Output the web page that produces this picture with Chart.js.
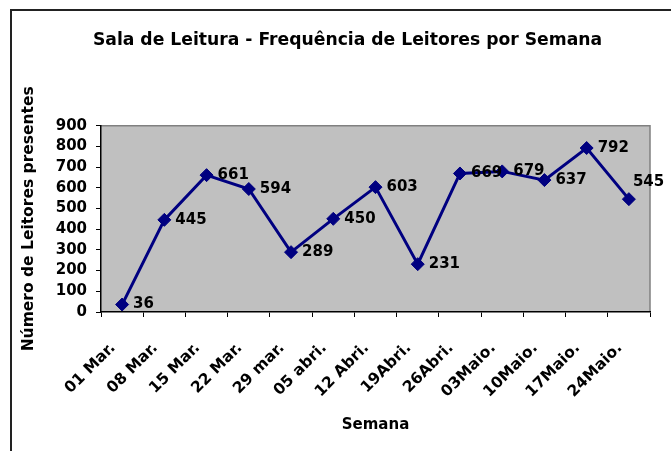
<!DOCTYPE html>
<html>
<head>
<meta charset="utf-8">
<script src="https://cdn.jsdelivr.net/npm/chart.js@4.4.0/dist/chart.umd.min.js"></script>
<style>
html, body { margin: 0; padding: 0; background: #fff; }
</style>
</head>
<body>
<canvas id="myChart" width="671" height="451"></canvas>
<script>
let semanas = ['01 Mar.', '08 Mar.', '15 Mar.', '22 Mar.', '29 mar.', '05 abri.', '12 Abri.', '19Abri.', '26Abri.', '03Maio.', '10Maio.', '17Maio.', '24Maio.'];
let leitores = [36, 445, 661, 594, 289, 450, 603, 231, 669, 679, 637, 792, 545];
let yMin = 0, yMax = 900, yStep = 100;

let fonte = '"DejaVu Sans", Verdana, sans-serif';

// moldura, fundo cinza da area do grafico
let moldura = {
	id: 'moldura',
	beforeDraw: function (chart) {
		let ctx = chart.ctx;
		let a = chart.chartArea;
		ctx.save();
		ctx.fillStyle = '#fff';
		ctx.fillRect(0, 0, chart.width, chart.height);
		ctx.strokeStyle = '#222';
		ctx.lineWidth = 2;
		ctx.beginPath();
		ctx.moveTo(11, chart.height + 2);
		ctx.lineTo(11, 10);
		ctx.lineTo(chart.width + 2, 10);
		ctx.stroke();
		ctx.fillStyle = '#c0c0c0';
		ctx.fillRect(a.left, a.top, a.right - a.left, a.bottom - a.top);
		ctx.strokeStyle = '#808080';
		ctx.lineWidth = 1.5;
		ctx.beginPath();
		ctx.moveTo(a.left, a.top);
		ctx.lineTo(a.right, a.top);
		ctx.lineTo(a.right, a.bottom);
		ctx.stroke();
		ctx.restore();
	}
};

// rotulos dos valores ao lado de cada ponto
let rotulos = {
	id: 'rotulos',
	afterDatasetsDraw: function (chart) {
		let ctx = chart.ctx;
		let meta = chart.getDatasetMeta(0);
		ctx.save();
		ctx.font = 'bold 15px ' + fonte;
		ctx.fillStyle = '#000';
		ctx.textBaseline = 'middle';
		ctx.textAlign = 'left';
		meta.data.forEach(function (pt, i) {
			let txt = String(leitores[i]);
			let w = ctx.measureText(txt).width;
			let x = pt.x + 11, y = pt.y;
			if (x + w > chart.chartArea.right) {
				x = pt.x + 4;
				y = pt.y - 17;
			}
			ctx.fillText(txt, x, y);
		});
		ctx.restore();
	}
};

let ctx = document.getElementById('myChart').getContext('2d');
let chart = new Chart(ctx, {
	type: 'line',
	data: {
		labels: semanas,
		datasets: [{
			label: 'Leitores',
			data: leitores,
			borderColor: '#000080',
			backgroundColor: '#000080',
			borderWidth: 3,
			pointStyle: 'rectRot',
			pointRadius: 6.5,
			pointBackgroundColor: '#000080',
			pointBorderColor: '#000080',
			pointBorderWidth: 1,
			tension: 0
		}]
	},
	options: {
		responsive: false,
		animation: false,
		devicePixelRatio: 1,
		layout: { padding: { left: 24, right: 0, top: 0, bottom: 0 } },
		plugins: {
			legend: { display: false },
			tooltip: { enabled: false },
			title: {
				display: true,
				text: 'Sala de Leitura - Frequência de Leitores por Semana',
				color: '#000',
				font: { family: fonte, size: 17.2, weight: 'bold' },
				padding: { top: 30, bottom: 75 }
			}
		},
		scales: {
			x: {
				type: 'category',
				offset: true,
				afterFit: function (s) { s.height = 139; },
				grid: { display: true, drawOnChartArea: false, drawTicks: true, tickLength: 5, tickColor: '#000', offset: true },
				border: { display: true, color: '#000', width: 1.5 },
				ticks: {
					autoSkip: false,
					maxRotation: 45,
					minRotation: 45,
					padding: 22,
					labelOffset: -9,
					color: '#000',
					font: { family: fonte, size: 15.5, weight: 'bold' }
				},
				title: {
					display: true,
					text: 'Semana',
					color: '#000',
					font: { family: fonte, size: 15, weight: 'bold' },
					padding: { top: 0, bottom: 17 }
				}
			},
			y: {
				min: yMin,
				max: yMax,
				afterFit: function (s) { s.width = 77; },
				grid: { display: true, drawOnChartArea: false, drawTicks: true, tickLength: 5, tickColor: '#000' },
				border: { display: true, color: '#000', width: 1.5 },
				ticks: {
					stepSize: yStep,
					autoSkip: false,
					padding: 9,
					color: '#000',
					font: { family: fonte, size: 15, weight: 'bold' }
				},
				title: {
					display: true,
					text: 'Número de Leitores presentes',
					color: '#000',
					font: { family: fonte, size: 15.5, weight: 'bold' },
					padding: { top: -4.5, bottom: 0 }
				}
			},
			y2: {
				position: 'right',
				display: true,
				afterFit: function (s) { s.width = 21; },
				grid: { display: false },
				border: { display: false },
				ticks: { display: false }
			}
		}
	},
	plugins: [moldura, rotulos]
});
</script>
</body>
</html>
